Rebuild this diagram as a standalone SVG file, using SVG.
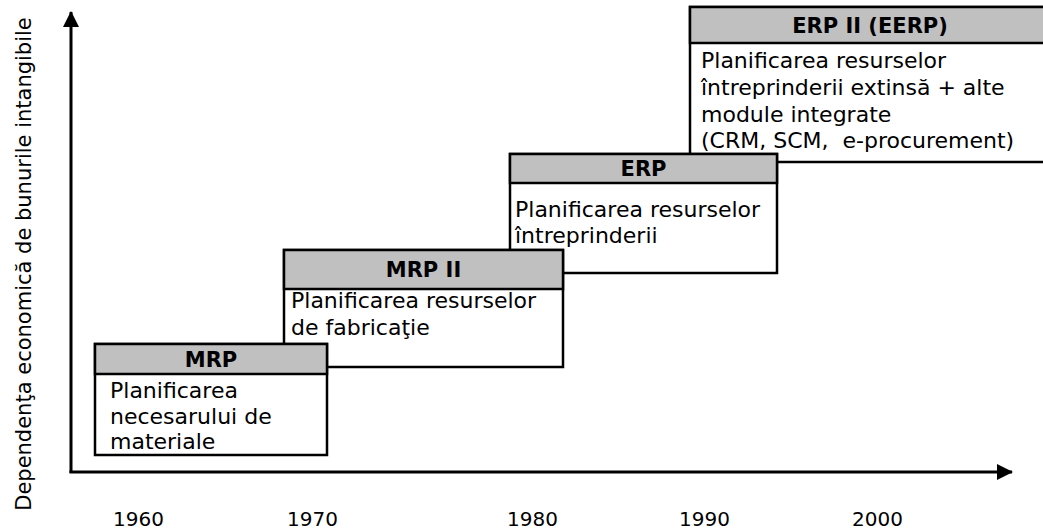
<svg xmlns="http://www.w3.org/2000/svg" width="1043" height="530" viewBox="0 0 1043 530">
  <defs>
    <marker id="arrow" viewBox="0 0 16 16" refX="15" refY="8" markerWidth="16" markerHeight="16" markerUnits="userSpaceOnUse" orient="auto">
      <path d="M0,0 L16,8 L0,16 Z" fill="#000"/>
    </marker>
  </defs>
  <style>
    .frame{fill:#fff;stroke:#000;stroke-width:2.5}
    .head{fill:#c0c0c0;stroke:#000;stroke-width:2.5}
    .txt{font-family:"DejaVu Sans",Verdana,sans-serif;font-size:22px;fill:#000}
    .lbl{font-family:"DejaVu Sans",Verdana,sans-serif;font-size:21px;fill:#000}
    .ttl{font-family:"DejaVu Sans",Verdana,sans-serif;font-size:21px;font-weight:bold;fill:#000;text-anchor:middle}
    .yr{font-family:"DejaVu Sans",Verdana,sans-serif;font-size:20px;fill:#000}
    .axis{stroke:#000;stroke-width:3;fill:none}
  </style>
  <rect width="1043" height="530" fill="#fff"/>

  <!-- axes -->
  <g id="connectors">
    <line class="axis" x1="71" y1="473" x2="71" y2="12" marker-end="url(#arrow)"/>
    <line class="axis" x1="69.5" y1="472" x2="1012" y2="472" marker-end="url(#arrow)"/>
  </g>

  <!-- vertical axis title -->
  <text class="lbl" transform="translate(31,264) rotate(-90)" text-anchor="middle">Dependenţa economică de bunurile intangibile</text>

  <!-- time scale -->
  <g id="years">
    <text class="yr" x="113" y="526">1960</text>
    <text class="yr" x="287" y="526">1970</text>
    <text class="yr" x="507" y="526">1980</text>
    <text class="yr" x="679" y="526">1990</text>
    <text class="yr" x="852" y="526">2000</text>
  </g>

  <!-- stages, later ones drawn first so earlier ones sit on top -->
  <g id="erp2">
    <rect class="frame" x="690" y="7" width="362" height="155"/>
    <rect class="head" x="690" y="7" width="362" height="36"/>
    <text class="ttl" x="870" y="32.5">ERP II (EERP)</text>
    <text class="txt" x="701" y="68">Planificarea resurselor</text>
    <text class="txt" x="701" y="95">întreprinderii extinsă + alte</text>
    <text class="txt" x="701" y="122">module integrate</text>
    <text class="txt" x="701" y="148" xml:space="preserve">(CRM, SCM,  e-procurement)</text>
  </g>

  <g id="erp">
    <rect class="frame" x="510" y="154" width="267" height="119"/>
    <rect class="head" x="510" y="154" width="267" height="29"/>
    <text class="ttl" x="643.5" y="176">ERP</text>
    <text class="txt" x="515" y="217">Planificarea resurselor</text>
    <text class="txt" x="515" y="243">întreprinderii</text>
  </g>

  <g id="mrp2">
    <rect class="frame" x="284" y="250" width="279" height="117"/>
    <rect class="head" x="284" y="250" width="279" height="39"/>
    <text class="ttl" x="423.5" y="277">MRP II</text>
    <text class="txt" x="291" y="308">Planificarea resurselor</text>
    <text class="txt" x="291" y="335">de fabricaţie</text>
  </g>

  <g id="mrp">
    <rect class="frame" x="95" y="344" width="232" height="111"/>
    <rect class="head" x="95" y="344" width="232" height="30"/>
    <text class="ttl" x="211" y="366.5">MRP</text>
    <text class="txt" x="110" y="398">Planificarea</text>
    <text class="txt" x="110" y="424">necesarului de</text>
    <text class="txt" x="110" y="449">materiale</text>
  </g>
</svg>
